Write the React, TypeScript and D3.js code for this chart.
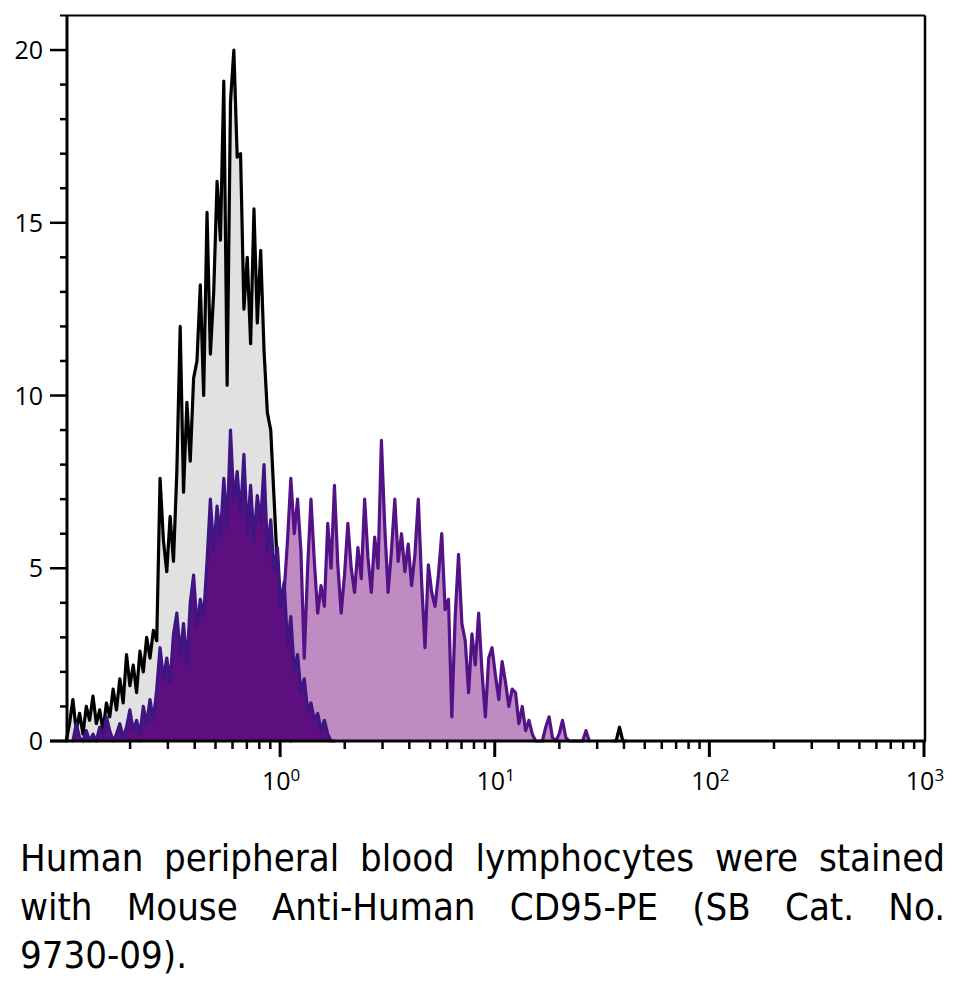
import React, { useRef, useEffect } from 'react';
import * as d3 from 'd3';

// histogram channels: 64 per decade, first channel just above 10^-1
const CHANNELS_PER_DECADE = 64;
const CHANNEL_OFFSET = 1.2;

// unstained control (grey, black outline)
const controlStart = 0;
const controlCounts = [
  0.5, 1.2, 0.3, 0.8, 0.2, 1.0, 0.6, 1.3, 0.5, 0.9,
  0.3, 1.1, 0.7, 1.5, 0.9, 1.8, 1.1, 2.5, 1.6, 2.2,
  1.4, 2.6, 2.0, 3.0, 2.4, 3.2, 2.9, 7.6, 5.8, 4.9,
  6.5, 5.2, 7.8, 12.0, 7.2, 9.8, 8.1, 10.5, 11.0, 13.2,
  10.0, 15.3, 11.2, 13.0, 16.2, 14.5, 19.1, 10.3, 18.5, 20.0,
  16.9, 17.0, 12.5, 14.0, 11.5, 15.4, 12.1, 14.2, 11.3, 9.5,
  9.0, 7.0, 5.0, 3.0, 1.2, 0.3,
];
const controlTailStart = 163;
const controlTailCounts = [0, 0.4, 0];

// isotype (dark purple)
const isotypeStart = 2;
const isotypeCounts = [
  0.5, 0.1, 0.0, 0.3, 0.0, 0.2, 0.0, 0.4, 0.1, 0.7,
  0.3, 0.0, 0.2, 0.5, 0.1, 0.4, 0.9, 0.3, 0.6, 0.2,
  1.0, 0.5, 1.2, 0.6, 1.5, 2.7, 1.8, 2.4, 1.7, 3.1,
  3.7, 2.5, 3.4, 2.2, 4.0, 4.8, 3.3, 4.1, 3.6, 5.2,
  7.0, 5.5, 6.8, 5.9, 7.6, 6.2, 9.0, 6.9, 7.8, 6.5,
  8.3, 6.0, 7.4, 5.8, 7.1, 6.3, 8.0, 5.5, 6.4, 4.9,
  5.6, 3.9, 4.6, 2.8, 3.6, 2.0, 2.5, 1.4, 1.8, 0.9,
  1.1, 0.6, 0.8, 0.3, 0.6, 0.2, 0,
];

// CD95-PE stained (light purple)
const stainedStart = 22;
const stainedCounts = [
  0.3, 0.6, 0.4, 0.9, 0.7, 1.2, 1.0, 1.5, 1.3, 1.8,
  2.0, 1.6, 2.3, 2.1, 2.6, 2.4, 2.9, 2.7, 3.1, 3.4,
  3.0, 3.6, 3.3, 3.9, 3.5, 4.0, 3.7, 4.2, 3.9, 4.4,
  4.1, 4.6, 4.3, 4.8, 4.4, 5.0, 4.6, 5.2, 4.8, 5.4,
  4.7, 3.5,
  4.3, 5.8, 7.6, 6.0, 7.0, 5.5, 2.4, 5.0, 7.0, 5.2,
  3.7, 4.5, 3.9, 6.3, 5.0, 7.4, 5.1, 3.7, 4.8, 6.3,
  5.0, 4.3, 5.6, 4.7, 7.0, 5.3, 4.3, 5.9, 5.0, 8.7,
  6.2, 4.3, 5.5, 7.0, 5.2, 6.0, 4.9, 5.7, 4.5, 5.4,
  7.0, 4.6, 2.7, 5.1, 4.3, 3.9, 4.8, 6.0, 3.8, 4.1,
  0.7, 3.6, 5.4, 3.4, 2.9, 1.4, 3.1, 2.2, 3.7, 2.0,
  0.7, 2.4, 2.7, 1.9, 1.2, 2.3, 1.7, 1.0, 1.5, 1.4,
  0.5, 1.0, 0.3, 0.6, 0.2, 0, 0, 0, 0.4, 0.7,
  0.1, 0, 0.2, 0.6, 0.1, 0, 0, 0, 0, 0,
  0.3,
];

const yTicks = [0, 5, 10, 15, 20];
const xLabelExponents = [0, 1, 2, 3];

const captionLines = [
  ['Human', 'peripheral', 'blood', 'lymphocytes', 'were', 'stained'],
  ['with', 'Mouse', 'Anti-Human', 'CD95-PE', '(SB', 'Cat.', 'No.'],
  ['9730-09).'],
];

const channelValue = (ch: number) =>
  Math.pow(10, -1 + (ch + CHANNEL_OFFSET) / CHANNELS_PER_DECADE);

const toPoints = (start: number, counts: number[]): [number, number][] => {
  const pts: [number, number][] = [[channelValue(start - 1), 0]];
  counts.forEach((c, i) => pts.push([channelValue(start + i), c]));
  pts.push([channelValue(start + counts.length), 0]);
  return pts;
};

const App: React.FC = () => {
  const svgRef = useRef<SVGSVGElement>(null);

  useEffect(() => {
    if (!svgRef.current) return;
    const svg = d3.select(svgRef.current);
    svg.selectAll('*').remove();

    const left = 67;
    const right = 925;
    const top = 15.5;
    const bottom = 741;
    const axisFont = "'Open Sans', 'DejaVu Sans', sans-serif";

    const x = d3.scaleLog().domain([0.1, 1000]).range([65.5, 924]);
    const y = d3.scaleLinear().domain([0, 21]).range([bottom, top]);

    const area = d3.area<[number, number]>()
      .x(d => x(d[0]))
      .y0(y(0))
      .y1(d => y(d[1]));
    const line = d3.line<[number, number]>()
      .x(d => x(d[0]))
      .y(d => y(d[1]));

    const series = [
      { pts: toPoints(stainedStart, stainedCounts), fill: '#c08ac2', stroke: '#531286' },
      { pts: toPoints(controlStart, controlCounts), fill: '#e1e1e1', stroke: '#000000' },
      { pts: toPoints(controlTailStart, controlTailCounts), fill: '#e1e1e1', stroke: '#000000' },
      { pts: toPoints(isotypeStart, isotypeCounts), fill: '#5e0f7f', stroke: '#3f1483' },
    ];

    const plot = svg.append('g');
    series.forEach(s => {
      plot.append('path')
        .attr('d', area(s.pts) || '')
        .attr('fill', s.fill);
      plot.append('path')
        .attr('d', line(s.pts) || '')
        .attr('fill', 'none')
        .attr('stroke', s.stroke)
        .attr('stroke-width', 3.2)
        .attr('stroke-linejoin', 'round')
        .attr('stroke-linecap', 'round');
    });

    // frame
    const frame = svg.append('g').attr('stroke', '#000').attr('fill', 'none');
    frame.append('line').attr('x1', 60).attr('x2', right).attr('y1', top).attr('y2', top).attr('stroke-width', 2);
    frame.append('line').attr('x1', right).attr('x2', right).attr('y1', top).attr('y2', bottom).attr('stroke-width', 2.5);
    frame.append('line').attr('x1', left).attr('x2', left).attr('y1', top).attr('y2', bottom).attr('stroke-width', 3);
    frame.append('line').attr('x1', 50).attr('x2', right + 1).attr('y1', bottom).attr('y2', bottom).attr('stroke-width', 3);

    // y ticks
    const yAxis = svg.append('g');
    d3.range(0, 21).forEach(v => {
      const major = v % 5 === 0;
      yAxis.append('line')
        .attr('x1', major ? 50 : 60).attr('x2', left)
        .attr('y1', y(v)).attr('y2', y(v))
        .attr('stroke', '#000').attr('stroke-width', 2.5);
    });
    yAxis.selectAll('text.ylab')
      .data(yTicks)
      .join('text')
      .attr('class', 'ylab')
      .attr('x', 43)
      .attr('y', d => y(d) + 9)
      .attr('text-anchor', 'end')
      .attr('font-family', axisFont)
      .attr('font-size', 25)
      .text(d => String(d));

    // x ticks
    const xAxis = svg.append('g');
    x.ticks().filter(v => v > 0.1 && v <= 1000).forEach(v => {
      const major = Math.abs(Math.log10(v) - Math.round(Math.log10(v))) < 1e-9;
      xAxis.append('line')
        .attr('x1', x(v)).attr('x2', x(v))
        .attr('y1', bottom).attr('y2', bottom + (major ? 16 : 8))
        .attr('stroke', '#000').attr('stroke-width', major ? 3 : 2.5);
    });
    xLabelExponents.forEach(e => {
      const t = xAxis.append('text')
        .attr('x', x(Math.pow(10, e)) + 1)
        .attr('y', 790)
        .attr('text-anchor', 'middle')
        .attr('font-family', axisFont)
        .attr('font-size', 25);
      t.append('tspan').text('10');
      t.append('tspan').attr('dy', -9).attr('font-size', 17).text(String(e));
    });

    // caption, justified
    const capLeft = 20;
    const capRight = 945;
    const cap = svg.append('g')
      .attr('font-family', "'DejaVu Sans Condensed', 'DejaVu Sans', sans-serif")
      .attr('font-size', 38)
      .attr('fill', '#000');
    captionLines.forEach((words, li) => {
      const baseline = 871 + li * 48.5;
      if (li === captionLines.length - 1) {
        cap.append('text').attr('x', capLeft).attr('y', baseline).text(words.join(' '));
        return;
      }
      const nodes = words.map(w => cap.append('text').attr('y', baseline).text(w));
      const widths = nodes.map(n => (n.node() as SVGTextElement).getComputedTextLength());
      const gap = (capRight - capLeft - d3.sum(widths)) / (words.length - 1);
      let cx = capLeft;
      nodes.forEach((n, i) => {
        n.attr('x', cx);
        cx += widths[i] + gap;
      });
    });
  }, []);

  return (
    <div style={{ position: 'absolute', left: 0, top: 0, background: '#fff' }}>
      <svg ref={svgRef} width={957} height={982} />
    </div>
  );
};

export default App;
